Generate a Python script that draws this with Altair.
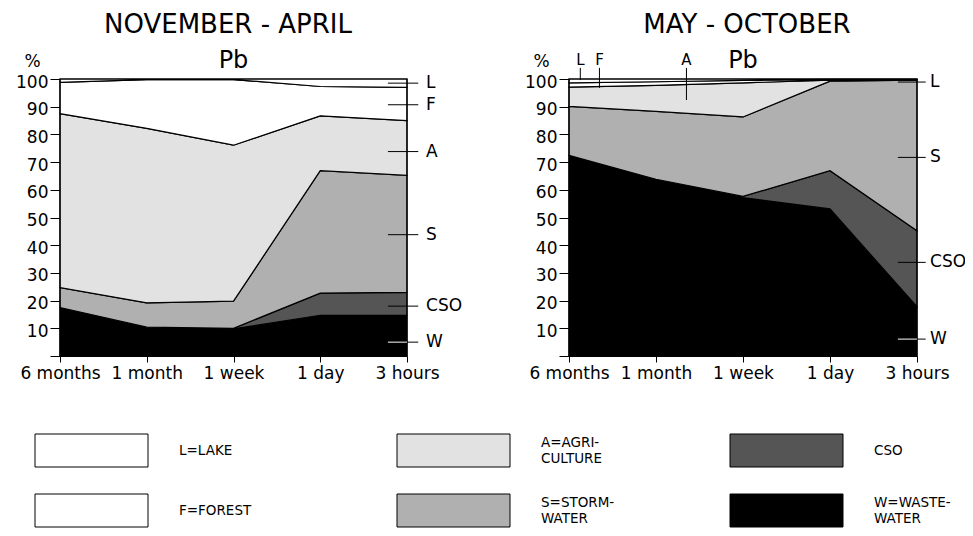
import json
import altair as alt
import pandas as pd

# ---------------- data ----------------
periods = ["6 months", "1 month", "1 week", "1 day", "3 hours"]
stack_codes = ["W", "CSO", "S", "A", "F", "L"]          # bottom -> top

# Share of Pb (%) per source, NOVEMBER - APRIL
nov_apr_W   = [17.5, 10.4,  9.8, 14.7, 14.7]
nov_apr_CSO = [ 0.0,  0.0,  0.2,  8.0,  8.3]
nov_apr_S   = [ 7.2,  8.8,  9.8, 44.2, 42.2]
nov_apr_A   = [62.8, 63.0, 56.3, 19.8, 19.8]
nov_apr_F   = [11.3, 17.6, 23.7, 10.6, 12.0]
nov_apr_L   = [ 1.2,  0.2,  0.2,  2.7,  3.0]

# Share of Pb (%) per source, MAY - OCTOBER
may_oct_W   = [72.4, 63.6, 57.2, 53.1, 17.8]
may_oct_CSO = [ 0.0,  0.2,  0.4, 13.8, 27.4]
may_oct_S   = [17.7, 24.5, 28.7, 32.3, 54.4]
may_oct_A   = [ 7.0,  9.4, 12.3,  0.4,  0.2]
may_oct_F   = [ 1.5,  1.3,  0.9,  0.3,  0.1]
may_oct_L   = [ 1.4,  1.0,  0.5,  0.1,  0.1]

# side labels (code, level in %)
nov_apr_side_codes = ["L", "F", "A", "S", "CSO", "W"]
nov_apr_side_level = [98.5, 90.7, 73.8, 43.8, 18.0, 5.0]
may_oct_side_codes = ["L", "S", "CSO", "W"]
may_oct_side_level = [98.9, 71.7, 33.8, 6.1]
# top labels of the May-October panel (code, position along the time axis, level the pointer reaches)
may_oct_top_codes = ["L", "F", "A"]
may_oct_top_pos   = [0.13, 0.35, 1.35]
may_oct_top_level = [99.6, 96.8, 92.4]

legend_codes  = ["L", "A", "CSO", "F", "S", "W"]
legend_labels = ["L=LAKE", "A=AGRI-\nCULTURE", "CSO", "F=FOREST", "S=STORM-\nWATER", "W=WASTE-\nWATER"]

# ---------------- styling / layout ----------------
FONT = "DejaVu Sans"
fill_colors = ["#000000", "#555555", "#b0b0b0", "#e2e2e2", "#ffffff", "#ffffff"]  # W, CSO, S, A, F, L
color_scale = alt.Scale(domain=stack_codes, range=fill_colors)

W, H = 957, 520
Y_RANGE = [348, 71]
LEFT_X = [52, 399]
RIGHT_X = [561, 909]
X_AXIS_OFFSET = Y_RANGE[0] - H

one = pd.DataFrame({"a": [0]})


def panel(shares, x_range, side_codes, side_level, out_end, txt_pos, top=None):
    rows = []
    for code, vals in shares.items():
        for i, v in enumerate(vals):
            rows.append({"i": i, "period": periods[i], "src": code,
                         "ord": stack_codes.index(code), "share": v})
    df = pd.DataFrame(rows)

    xs = alt.Scale(domain=[0, 4], range=x_range, nice=False, zero=False)
    ys = alt.Scale(domain=[0, 100], range=Y_RANGE, nice=False, zero=False)

    x_axis = alt.Axis(orient="bottom", offset=X_AXIS_OFFSET, values=[0, 1, 2, 3, 4],
                      labelExpr=f"{json.dumps(periods)}[datum.value]", title=None,
                      grid=False, tickSize=6, labelPadding=3, labelFlush=False,
                      labelOverlap=False, labelBound=False,
                      labelFont=FONT, labelFontSize=17, labelColor="black",
                      domainColor="black", domainWidth=1.2, tickColor="black")
    y_axis = alt.Axis(orient="left", offset=-x_range[0], values=list(range(0, 101, 10)),
                      labelExpr="datum.value == 0 ? '' : datum.label",
                      grid=False, tickSize=10, labelPadding=2, labelOffset=3,
                      labelFlush=False,
                      labelOverlap=False, labelFont=FONT, labelFontSize=17,
                      labelColor="black", domainColor="black", domainWidth=1.2,
                      tickColor="black",
                      title="%", titleAngle=0, titleX=-28, titleY=58,
                      titleAlign="center", titleBaseline="alphabetic",
                      titleFont=FONT, titleFontSize=17, titleFontWeight="normal",
                      titleColor="black")

    area = alt.Chart(df).mark_area(stroke="black", strokeWidth=1.2, interpolate="linear").encode(
        x=alt.X("i:Q", scale=xs, axis=x_axis),
        y=alt.Y("share:Q", stack="zero", scale=ys, axis=y_axis),
        color=alt.Color("src:N", scale=color_scale, legend=None),
        order=alt.Order("ord:Q", sort="ascending"),
    )

    frame = alt.Chart(one).mark_rect(filled=False, stroke="black", strokeWidth=1.2).encode(
        x=alt.datum(0, scale=xs, axis=x_axis), x2=alt.datum(4),
        y=alt.datum(0, scale=ys, axis=y_axis), y2=alt.datum(100),
    )

    pb = alt.Chart(one).mark_text(text="Pb", font=FONT, fontSize=24, baseline="alphabetic",
                                  align="center", color="black").encode(
        x=alt.datum(2, scale=xs, axis=x_axis), y=alt.datum(104, scale=ys, axis=y_axis))

    side = pd.DataFrame({"code": side_codes, "level": side_level})
    side["x_in"] = 3.78
    side["x_edge"] = 4.0
    side["x_out"] = out_end
    side["x_txt"] = txt_pos
    side["c_in"] = ["white" if c == "W" else "black" for c in side_codes]

    rule_in = alt.Chart(side).mark_rule(strokeWidth=1).encode(
        x=alt.X("x_in:Q", scale=xs, axis=x_axis), x2="x_edge:Q",
        y=alt.Y("level:Q", scale=ys, axis=y_axis),
        color=alt.Color("c_in:N", scale=None))
    rule_out = alt.Chart(side).mark_rule(strokeWidth=1, color="black").encode(
        x=alt.X("x_edge:Q", scale=xs, axis=x_axis), x2="x_out:Q",
        y=alt.Y("level:Q", scale=ys, axis=y_axis))
    txt = alt.Chart(side).mark_text(font=FONT, fontSize=17, align="left", baseline="middle",
                                    color="black").encode(
        x=alt.X("x_txt:Q", scale=xs, axis=x_axis),
        y=alt.Y("level:Q", scale=ys, axis=y_axis),
        text="code:N")

    layers = [area, frame, rule_in, rule_out, txt, pb]

    if top is not None:
        codes, pos, level = top
        tdf = pd.DataFrame({"code": codes, "pos": pos, "level": level})
        tdf["y_top"] = 104.0
        tdf["y_txt"] = 105.2
        trule = alt.Chart(tdf).mark_rule(strokeWidth=1, color="black").encode(
            x=alt.X("pos:Q", scale=xs, axis=x_axis),
            y=alt.Y("y_top:Q", scale=ys, axis=y_axis), y2="level:Q")
        ttxt = alt.Chart(tdf).mark_text(font=FONT, fontSize=15, align="center",
                                        baseline="alphabetic", color="black").encode(
            x=alt.X("pos:Q", scale=xs, axis=x_axis),
            y=alt.Y("y_txt:Q", scale=ys, axis=y_axis),
            text="code:N")
        layers += [trule, ttxt]

    return alt.layer(*layers)


left = panel({"W": nov_apr_W, "CSO": nov_apr_CSO, "S": nov_apr_S, "A": nov_apr_A,
              "F": nov_apr_F, "L": nov_apr_L}, LEFT_X, nov_apr_side_codes, nov_apr_side_level,
             out_end=4.13, txt_pos=4.22)
right = panel({"W": may_oct_W, "CSO": may_oct_CSO, "S": may_oct_S, "A": may_oct_A,
               "F": may_oct_F, "L": may_oct_L}, RIGHT_X, may_oct_side_codes, may_oct_side_level,
              out_end=4.1, txt_pos=4.15,
              top=(may_oct_top_codes, may_oct_top_pos, may_oct_top_level))

# ---------------- legend ----------------
LEG_COL_X = [27, 389, 722]
LEG_ROW_Y = [426, 486]
BOX_W, BOX_H = 113, 33
LINE_H = 16
leg = pd.DataFrame({"code": legend_codes, "label": legend_labels})
leg["col"] = [k % 3 for k in range(len(leg))]
leg["row"] = [k // 3 for k in range(len(leg))]
leg["x0"] = [LEG_COL_X[c] for c in leg["col"]]
leg["x1"] = leg["x0"] + BOX_W
leg["y0"] = [LEG_ROW_Y[r] for r in leg["row"]]
leg["y1"] = leg["y0"] + BOX_H
leg["tx"] = leg["x1"] + 31
leg["ty"] = [y0 + BOX_H / 2 - (lab.count("\n")) * LINE_H / 2
             for y0, lab in zip(leg["y0"], leg["label"])]

leg_boxes = alt.Chart(leg).mark_rect(stroke="black", strokeWidth=1).encode(
    x=alt.X("x0:Q", scale=None, axis=None), x2="x1:Q",
    y=alt.Y("y0:Q", scale=None, axis=None), y2="y1:Q",
    color=alt.Color("code:N", scale=color_scale, legend=None))
leg_text = alt.Chart(leg).mark_text(font=FONT, fontSize=13.5, align="left", baseline="middle",
                                    lineBreak="\n", lineHeight=LINE_H, color="black").encode(
    x=alt.X("tx:Q", scale=None, axis=None),
    y=alt.Y("ty:Q", scale=None, axis=None),
    text="label:N")

# ---------------- season titles ----------------
t_left = alt.Chart(one).mark_text(text="NOVEMBER - APRIL", font=FONT, fontSize=26,
                                  align="center", baseline="alphabetic", color="black").encode(
    x=alt.value(220), y=alt.value(25))
t_right = alt.Chart(one).mark_text(text="MAY - OCTOBER", font=FONT, fontSize=26,
                                   align="center", baseline="alphabetic", color="black").encode(
    x=alt.value(739), y=alt.value(25))

chart = alt.layer(left, right, leg_boxes, leg_text, t_left, t_right).resolve_scale(
    x="independent", y="independent"
).properties(
    width=W, height=H, padding=0, autosize=alt.AutoSizeParams(type="none"),
    background="white",
).configure_view(strokeWidth=0)

chart.save("out.html", embed_options={"renderer": "svg", "actions": False})
